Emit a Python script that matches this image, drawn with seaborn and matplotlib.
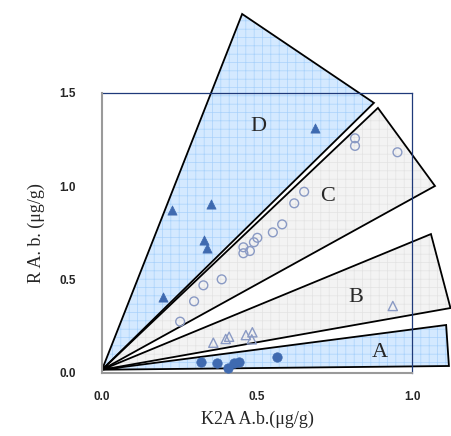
import matplotlib
matplotlib.use("Agg")
import matplotlib.pyplot as plt
from matplotlib.patches import Polygon
import seaborn as sns

# sectors: apex plus two outer corners (data units)
apex = (0.0, 0.015)
sector_d = [(0.452, 1.924), (0.877, 1.447)]
sector_c = [(0.890, 1.420), (1.074, 1.001)]
sector_b = [(1.061, 0.743), (1.124, 0.346)]
sector_a = [(1.110, 0.255), (1.119, 0.035)]

# group D: filled triangles
d_x = [0.687, 0.225, 0.352, 0.329, 0.338, 0.198]
d_y = [1.312, 0.872, 0.903, 0.711, 0.667, 0.404]

# group C: open circles
c_x = [0.816, 0.816, 0.953, 0.652, 0.620, 0.581, 0.551, 0.501, 0.490,
       0.477, 0.456, 0.456, 0.386, 0.327, 0.297, 0.252]
c_y = [1.257, 1.216, 1.182, 0.970, 0.908, 0.795, 0.752, 0.723, 0.699,
       0.652, 0.672, 0.640, 0.500, 0.468, 0.382, 0.273]

# group B: open triangles
b_x = [0.359, 0.399, 0.410, 0.464, 0.485, 0.483, 0.938]
b_y = [0.160, 0.180, 0.192, 0.201, 0.216, 0.178, 0.357]

# group A: filled circles
a_x = [0.319, 0.370, 0.405, 0.427, 0.442, 0.563]
a_y = [0.055, 0.049, 0.026, 0.053, 0.056, 0.082]

labels = ["D", "C", "B", "A"]
label_pos = [(0.503, 1.322), (0.726, 0.946), (0.819, 0.40), (0.897, 0.11)]

sns.set_style("white")
plt.rcParams["hatch.linewidth"] = 0.5

fig = plt.figure(figsize=(4.51, 4.36), dpi=100)
ax = fig.add_axes([0.2262, 0.1456, 0.6874, 0.6411])
ax.set_xlim(0, 1.0)
ax.set_ylim(0, 1.5)

blue_fill, blue_grid = "#D4E9FF", "#A9D2FB"
gray_fill, gray_grid = "#F3F3F3", "#E3E3E3"

for corners, fill, grid in [(sector_d, blue_fill, blue_grid),
                            (sector_c, gray_fill, gray_grid),
                            (sector_b, gray_fill, gray_grid),
                            (sector_a, blue_fill, blue_grid)]:
    pts = [apex] + corners
    ax.add_patch(Polygon(pts, closed=True, facecolor=fill, edgecolor=grid,
                         hatch="++", linewidth=0, clip_on=False, zorder=1))
    ax.add_patch(Polygon(pts, closed=True, facecolor="none", edgecolor="black",
                         linewidth=1.3, clip_on=False, zorder=1.5))

filled = "#3F6AB0"
opened = "#8A9AC4"
sns.scatterplot(x=d_x, y=d_y, marker="^", s=44, color=filled, edgecolor=filled,
                linewidth=0.5, ax=ax, zorder=3, clip_on=False)
sns.scatterplot(x=a_x, y=a_y, marker="o", s=46, color=filled, edgecolor=filled,
                linewidth=0.5, ax=ax, zorder=3, clip_on=False)
sns.scatterplot(x=c_x, y=c_y, marker="o", s=40, facecolor="none", edgecolor=opened,
                linewidth=1.0, ax=ax, zorder=3, clip_on=False)
sns.scatterplot(x=b_x, y=b_y, marker="^", s=44, facecolor="none", edgecolor=opened,
                linewidth=1.0, ax=ax, zorder=3, clip_on=False)

for lab, (lx, ly) in zip(labels, label_pos):
    ax.text(lx, ly, lab, fontsize=16, family="Liberation Serif",
            ha="center", va="center", zorder=4)

ax.set_xticks([0.0, 0.5, 1.0])
ax.set_yticks([0.0, 0.5, 1.0, 1.5])
ax.set_xticklabels(["0.0", "0.5", "1.0"])
ax.set_yticklabels(["0.0", "0.5", "1.0", "1.5"])
for t in ax.get_xticklabels() + ax.get_yticklabels():
    t.set_family("Liberation Sans")
    t.set_fontweight("bold")
    t.set_fontsize(8.5)
ax.tick_params(axis="x", direction="in", length=3, color="#999999", pad=13)
ax.tick_params(axis="y", direction="in", length=3, color="#999999", pad=19)

ax.set_xlabel("K2A A.b.(μg/g)", family="Liberation Serif", fontsize=13, labelpad=6)
ax.set_ylabel("R A. b. (μg/g)", family="Liberation Serif", fontsize=13, labelpad=10)

for side in ["left", "bottom"]:
    ax.spines[side].set_color("#9A9A9A")
    ax.spines[side].set_linewidth(1.5)
for side in ["top", "right"]:
    ax.spines[side].set_color("#1F3A7A")
    ax.spines[side].set_linewidth(0.9)
    ax.spines[side].set_zorder(2)

fig.savefig("out.png", dpi=100)
